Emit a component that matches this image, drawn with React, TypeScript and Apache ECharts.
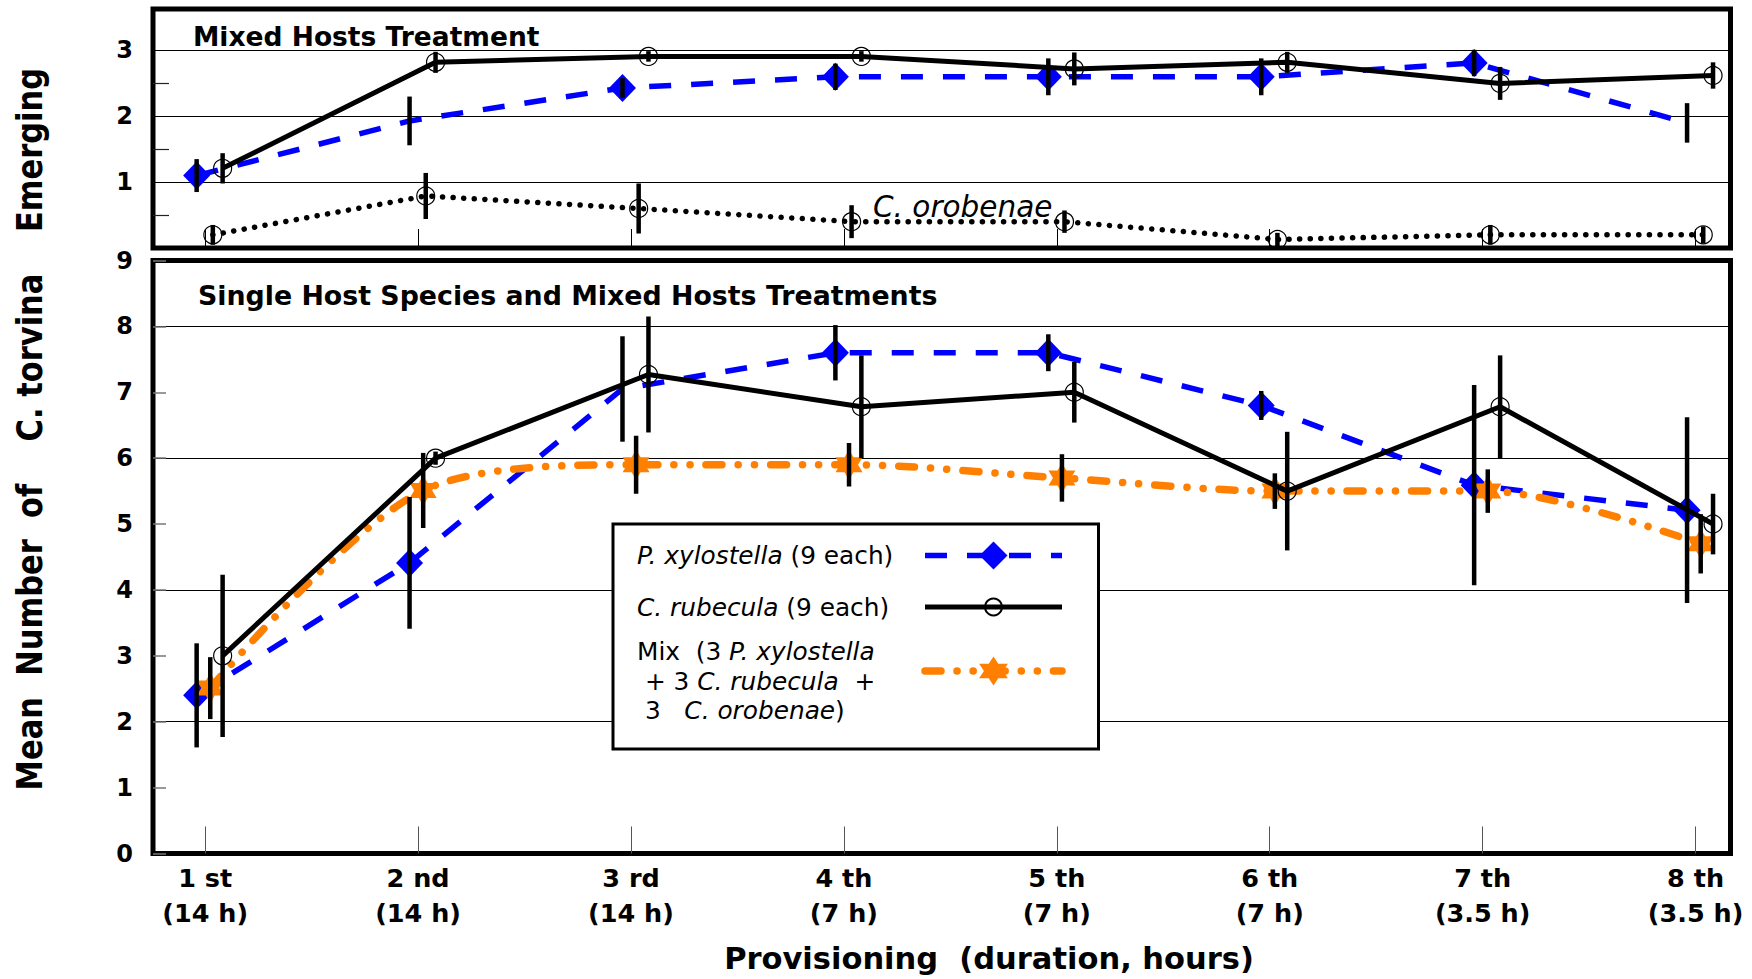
import React, { useEffect, useRef } from 'react';
import * as echarts from 'echarts';

// ---------- data ----------
const ordinals = ['1 st', '2 nd', '3 rd', '4 th', '5 th', '6 th', '7 th', '8 th'];
const durations = ['(14 h)', '(14 h)', '(14 h)', '(7 h)', '(7 h)', '(7 h)', '(3.5 h)', '(3.5 h)'];

// Top panel: Mixed Hosts Treatment (emerging)
const topPxMean = [1.10, 1.93, 2.43, 2.60, 2.60, 2.60, 2.81, 1.90];
const topPxErr = [0.25, 0.37, 0.15, 0.20, 0.28, 0.28, 0.20, 0.30];
const topPxMarked = [true, false, true, true, true, true, true, false];
const topCrMean = [1.21, 2.82, 2.91, 2.91, 2.72, 2.82, 2.50, 2.62];
const topCrErr = [0.23, 0.16, 0.08, 0.08, 0.25, 0.16, 0.25, 0.20];
const topCoMean = [0.20, 0.79, 0.60, 0.40, 0.40, 0.13, 0.20, 0.20];
const topCoErr = [0.15, 0.35, 0.38, 0.25, 0.17, 0.10, 0.15, 0.13];

// Bottom panel: Single Host Species and Mixed Hosts Treatments
const botPxMean = [2.40, 4.41, 7.05, 7.60, 7.60, 6.80, 5.59, 5.21];
const botPxErr = [0.79, 1.00, 0.80, 0.42, 0.28, 0.22, 1.52, 1.41];
const botPxMarked = [true, true, false, true, true, true, true, true];
const botCrMean = [3.00, 6.00, 7.27, 6.78, 7.00, 5.50, 6.78, 5.00];
const botCrErr = [1.23, 0.10, 0.88, 0.78, 0.46, 0.90, 0.78, 0.46];
const botMixMean = [2.51, 5.51, 5.90, 5.90, 5.70, 5.50, 5.50, 4.70];
const botMixErr = [0.47, 0.57, 0.44, 0.33, 0.36, 0.27, 0.33, 0.45];

// axis ticks
const topTickLabels = [1, 2, 3];
const topMinorTicks = [0.5, 1.5, 2.5];

// ---------- styling / layout ----------
const FONT = 'DejaVu Sans';
const BLUE = '#0000ff';
const ORANGE = '#ff8000';
const X_MIN = 0.755;
const X_MAX = 8.164;
// horizontal dodge of each group around its provisioning position
const OFF_PX = -0.04;
const OFF_MIX = 0.024;
const OFF_CR = 0.082;
const OFF_CO = 0.036;
const STAR =
  'path://M0,-12L3.46,-6L10.39,-6L6.93,0L10.39,6L3.46,6L0,12L-3.46,6L-10.39,6L-6.93,0L-10.39,-6L-3.46,-6Z';

const LS_PX = { color: BLUE, width: 5.5, type: [22, 20] as any };
const LS_CR = { color: '#000', width: 5 };
const LS_MIX = { color: ORANGE, width: 7.5, type: [16, 16, 0.1, 16, 0.1, 16] as any, cap: 'round' };
const LS_CO = { color: '#000', width: 5.5, type: [0.1, 10.5] as any, cap: 'round' };

const catX = ordinals.map((_, i) => i + 1);

const pts = (means: number[], off: number, marked?: boolean[]) =>
  means.map((v, i) => {
    const item: any = { value: [i + 1 + off, v] };
    if (marked && !marked[i]) item.symbol = 'none';
    return item;
  });

const bars = (means: number[], errs: number[], off: number) =>
  means.map((v, i) => [i + 1 + off, v - errs[i], v + errs[i]]);

const errorBars = (name: string, xi: number, yi: number, data: number[][]) => ({
  type: 'custom',
  name,
  xAxisIndex: xi,
  yAxisIndex: yi,
  data,
  z: 6,
  silent: true,
  encode: { x: 0, y: [1, 2] },
  renderItem: (_params: any, api: any) => {
    const a = api.coord([api.value(0), api.value(1)]);
    const b = api.coord([api.value(0), api.value(2)]);
    return {
      type: 'line',
      shape: { x1: a[0], y1: a[1], x2: b[0], y2: b[1] },
      style: { stroke: '#000', lineWidth: 4.5 },
    };
  },
});

const LEGEND_LABELS: Record<string, string> = {
  'P. xylostella (9 each)': '{i|P. xylostella}{n| (9 each)}',
  'C. rubecula (9 each)': '{i|C. rubecula}{n| (9 each)}',
  Mix: '{n|Mix\u00a0\u00a0(3 }{i|P. xylostella}\n{n|\u00a0+ 3 }{i|C. rubecula}{n|\u00a0\u00a0+}\n{n|\u00a03\u00a0\u00a0\u00a0}{i|C. orobenae}{n|)}',
};

const LFS = 24.8;
const legendTextStyle = (lh: number, padding?: number[]) => ({
  fontFamily: FONT,
  fontSize: LFS,
  color: '#000',
  width: 283,
  lineHeight: lh,
  padding: padding || 0,
  rich: {
    i: { fontFamily: FONT, fontSize: LFS, fontStyle: 'italic', color: '#000', lineHeight: lh, align: 'left' },
    n: { fontFamily: FONT, fontSize: LFS, color: '#000', lineHeight: lh, align: 'left' },
  },
});

const legendBase = (name: string, top: number, itemHeight: number, lh: number, lineStyle: any, padding?: number[]) => ({
  data: [name],
  orient: 'vertical',
  align: 'right',
  left: 637,
  top,
  padding: 0,
  itemWidth: 137,
  itemHeight,
  selectedMode: false,
  lineStyle: { ...lineStyle, inactiveWidth: lineStyle.width },
  formatter: (n: string) => LEGEND_LABELS[n] || n,
  textStyle: legendTextStyle(lh, padding),
});

const yLabel = {
  fontFamily: FONT,
  fontSize: 24,
  fontWeight: 'bold',
  color: '#000',
  margin: 20,
};

function buildOption(): any {
  return {
    animation: false,
    backgroundColor: '#fff',
    grid: [
      {
        left: 153, right: 21.5, top: 9, height: 239,
        show: true, borderColor: '#000', borderWidth: 5, backgroundColor: 'transparent',
        containLabel: false, outerBoundsMode: 'none',
      },
      {
        left: 153, right: 21.5, top: 260.5, height: 593,
        show: true, borderColor: '#000', borderWidth: 5, backgroundColor: 'transparent',
        containLabel: false, outerBoundsMode: 'none',
      },
    ],
    xAxis: [
      {
        type: 'value', gridIndex: 0, min: X_MIN, max: X_MAX, splitNumber: 8,
        axisLine: { show: false },
        axisTick: { show: true, inside: true, length: 19, customValues: catX, lineStyle: { color: '#000', width: 1 } },
        axisLabel: { show: false },
        splitLine: { show: false },
      },
      {
        type: 'value', gridIndex: 1, min: X_MIN, max: X_MAX, splitNumber: 8,
        axisLine: { show: false },
        axisTick: { show: true, inside: true, length: 27, customValues: catX, lineStyle: { color: '#555', width: 1 } },
        axisLabel: {
          show: true,
          customValues: catX,
          fontFamily: FONT, fontSize: 25.5, fontWeight: 'bold', color: '#000',
          lineHeight: 35, margin: 7,
          formatter: (v: number) => {
            const r = Math.round(v);
            if (Math.abs(v - r) > 1e-6 || !ordinals[r - 1]) return '';
            return ordinals[r - 1] + '\n' + durations[r - 1];
          },
        },
        splitLine: { show: false },
      },
    ],
    yAxis: [
      {
        type: 'value', gridIndex: 0, min: 0, max: 3.63, interval: 1,
        axisLine: { show: false },
        axisTick: { show: true, inside: true, length: 16, customValues: topMinorTicks, lineStyle: { color: '#222', width: 1.2 } },
        axisLabel: { ...yLabel, customValues: topTickLabels, formatter: (v: number) => (Number.isInteger(v) && v > 0 && v <= 3 ? String(v) : '') },
        splitLine: { show: false },
      },
      {
        type: 'value', gridIndex: 0, min: 0, max: 3.63, interval: 1,
        axisLine: { show: false }, axisTick: { show: false }, axisLabel: { show: false },
        splitLine: { show: true, lineStyle: { color: '#000', width: 1 } },
      },
      {
        type: 'value', gridIndex: 1, min: 0, max: 9, interval: 1,
        axisLine: { show: false },
        axisTick: { show: true, inside: true, length: 13, lineStyle: { color: '#777', width: 1.5 } },
        axisLabel: { ...yLabel },
        splitLine: { show: false },
      },
      {
        type: 'value', gridIndex: 1, min: 0, max: 9, interval: 2,
        axisLine: { show: false }, axisTick: { show: false }, axisLabel: { show: false },
        splitLine: { show: true, lineStyle: { color: '#000', width: 1 } },
      },
    ],
    legend: [
      legendBase('P. xylostella (9 each)', 540.5, 35, 30, LS_PX),
      legendBase('C. rubecula (9 each)', 592, 21, 30, LS_CR),
      legendBase('Mix', 616.75, 36, 29.5, LS_MIX, [20, 0, 0, 0]),
    ],
    series: [
      // ---- top panel ----
      {
        type: 'line', name: 'P. xylostella (mixed)', xAxisIndex: 0, yAxisIndex: 0,
        data: pts(topPxMean, OFF_PX, topPxMarked),
        symbol: 'diamond', symbolSize: [27, 28],
        itemStyle: { color: BLUE },
        lineStyle: LS_PX,
        z: 3, silent: true,
      },
      {
        type: 'line', name: 'C. rubecula (mixed)', xAxisIndex: 0, yAxisIndex: 0,
        data: pts(topCrMean, OFF_CR),
        symbol: 'circle', symbolSize: 18,
        itemStyle: { color: 'rgba(255,255,255,0)', borderColor: '#000', borderWidth: 1.2 },
        lineStyle: LS_CR,
        z: 4, silent: true,
      },
      {
        type: 'line', name: 'C. orobenae (mixed)', xAxisIndex: 0, yAxisIndex: 0,
        data: pts(topCoMean, OFF_CO),
        symbol: 'circle', symbolSize: 18,
        itemStyle: { color: 'rgba(255,255,255,0)', borderColor: '#000', borderWidth: 1.2 },
        lineStyle: LS_CO,
        z: 3, silent: true,
      },
      errorBars('err top px', 0, 0, bars(topPxMean, topPxErr, OFF_PX)),
      errorBars('err top cr', 0, 0, bars(topCrMean, topCrErr, OFF_CR)),
      errorBars('err top co', 0, 0, bars(topCoMean, topCoErr, OFF_CO)),
      // ---- bottom panel ----
      {
        type: 'line', name: 'P. xylostella (9 each)', xAxisIndex: 1, yAxisIndex: 2,
        data: pts(botPxMean, OFF_PX, botPxMarked),
        symbol: 'diamond', symbolSize: [27, 28],
        itemStyle: { color: BLUE },
        lineStyle: LS_PX,
        z: 3, silent: true,
      },
      {
        type: 'line', name: 'C. rubecula (9 each)', xAxisIndex: 1, yAxisIndex: 2,
        data: pts(botCrMean, OFF_CR),
        symbol: 'circle', symbolSize: 18,
        itemStyle: { color: 'rgba(255,255,255,0)', borderColor: '#000', borderWidth: 1.2 },
        lineStyle: LS_CR,
        z: 4, silent: true,
      },
      {
        type: 'line', name: 'Mix', xAxisIndex: 1, yAxisIndex: 2,
        data: pts(botMixMean, OFF_MIX),
        symbol: STAR, symbolSize: [27, 30],
        smooth: 0.3,
        itemStyle: { color: ORANGE },
        lineStyle: LS_MIX,
        z: 3, silent: true,
      },
      errorBars('err bot px', 1, 2, bars(botPxMean, botPxErr, OFF_PX)),
      errorBars('err bot cr', 1, 2, bars(botCrMean, botCrErr, OFF_CR)),
      errorBars('err bot mix', 1, 2, bars(botMixMean, botMixErr, OFF_MIX)),
    ],
    graphic: {
      elements: [
        {
          type: 'rect', z: 1,
          shape: { x: 613, y: 524, width: 485.5, height: 225 },
          style: { fill: '#fff', stroke: '#000', lineWidth: 3 },
        },
        {
          type: 'text', z: 10, x: 193, y: 36,
          style: { text: 'Mixed Hosts Treatment', fill: '#000', fontFamily: FONT, fontSize: 26.5, fontWeight: 'bold', align: 'left', verticalAlign: 'middle' },
        },
        {
          type: 'text', z: 10, x: 198, y: 295,
          style: { text: 'Single Host Species and Mixed Hosts Treatments', fill: '#000', fontFamily: FONT, fontSize: 26.8, fontWeight: 'bold', align: 'left', verticalAlign: 'middle' },
        },
        {
          type: 'text', z: 10, x: 873, y: 207,
          style: { text: 'C. orobenae', fill: '#000', fontFamily: FONT, fontSize: 29.5, fontStyle: 'italic', align: 'left', verticalAlign: 'middle' },
        },
        {
          type: 'text', z: 10, x: 30, y: 150, rotation: Math.PI / 2, scaleY: 1.15,
          style: { text: 'Emerging', fill: '#000', fontFamily: FONT, fontSize: 30.5, fontWeight: 'bold', align: 'center', verticalAlign: 'middle' },
        },
        {
          type: 'text', z: 10, x: 30, y: 532, rotation: Math.PI / 2, scaleY: 1.15,
          style: { text: 'Mean\u00a0\u00a0Number\u00a0\u00a0of\u00a0\u00a0\u00a0\u00a0C. torvina', fill: '#000', fontFamily: FONT, fontSize: 30.5, fontWeight: 'bold', align: 'center', verticalAlign: 'middle' },
        },
        {
          type: 'text', z: 10, x: 989, y: 958,
          style: { text: 'Provisioning\u00a0\u00a0(duration, hours)', fill: '#000', fontFamily: FONT, fontSize: 30.5, fontWeight: 'bold', align: 'center', verticalAlign: 'middle' },
        },
      ],
    },
  };
}

export default function App() {
  const ref = useRef<HTMLDivElement>(null);
  useEffect(() => {
    if (!ref.current) return;
    const chart = echarts.init(ref.current, null, { renderer: 'svg' });
    chart.setOption(buildOption());
    return () => chart.dispose();
  }, []);
  return (
    <div
      ref={ref}
      style={{ position: 'fixed', left: 0, top: 0, width: 1752, height: 979, background: '#fff' }}
    />
  );
}
